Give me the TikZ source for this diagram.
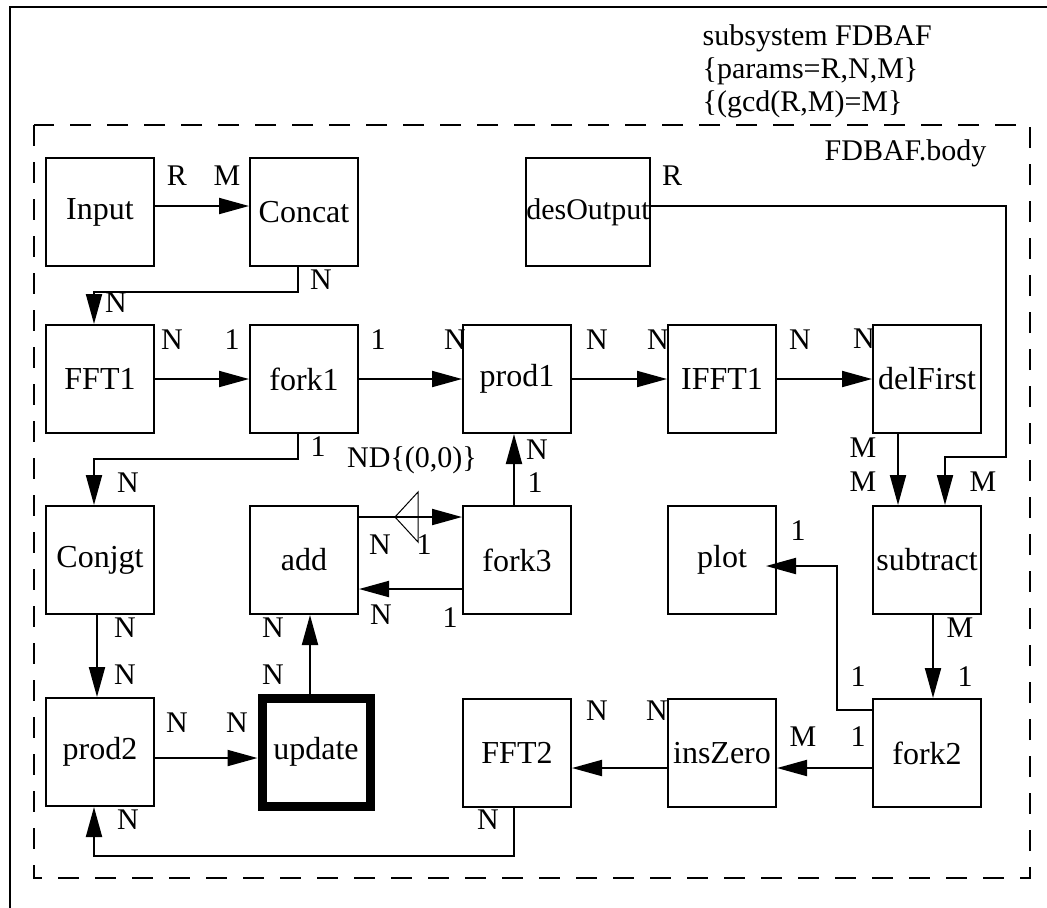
\documentclass[tikz,border=0pt]{standalone}
\usepackage{fontspec}
\setmainfont{Liberation Serif}
\usetikzlibrary{arrows.meta}

\begin{document}
\begin{tikzpicture}[x=0.5pt,y=-0.5pt,>={Triangle[length=15pt,width=8pt]},line width=1pt,
        font=\fontsize{15}{16.5}\selectfont,
        blk/.style={draw, rectangle, minimum size=54pt, inner sep=0pt, font=\fontsize{16}{18}\selectfont},
        lbl/.style={inner sep=0pt}]
        \useasboundingbox (0,0) rectangle (1047,907);
        \draw (1060,7) -- (10,7) -- (10,920);
        \draw[dash pattern=on 10.5pt off 8pt] (34,125) rectangle (1030,878);

        \node (hdr1) [anchor=base west] at (695,45) {subsystem FDBAF};
        \node (hdr2) [anchor=base west] at (695,78) {\{params=R,N,M\}};
        \node (hdr3) [anchor=base west] at (695,111) {\{(gcd(R,M)=M\}};
        \node (body) [anchor=base west] at (817,160) {FDBAF.body};

        \node (input) [blk] at (100,212) {Input};
        \node (concat) [blk] at (304,212) {Concat};
        \node (desoutput) [blk, minimum width=61.5pt, font=\fontsize{15}{18}\selectfont] at (588,212) {desOutput};

        \node (fft1) [blk] at (100,379) {FFT1};
        \node (fork1) [blk] at (304,379) {fork1};
        \node (prod1) [blk] at (517,379) {prod1};
        \node (ifft1) [blk] at (722,379) {IFFT1};
        \node (delfirst) [blk] at (927,379) {delFirst};

        \node (conjgt) [blk] at (100,560) {Conjgt};
        \node (add) [blk] at (304,560) {add};
        \node (fork3) [blk] at (517,560) {fork3};
        \node (plot) [blk] at (722,560) {plot};
        \node (subtract) [blk] at (927,560) {subtract};

        \node (prod2) [blk] at (100,752) {prod2};
        \node (update) [blk, line width=4.5pt] at (316,752) {update};
        \node (fft2) [blk] at (517,753) {FFT2};
        \node (inszero) [blk] at (722,753) {insZero};
        \node (fork2) [blk] at (927,753) {fork2};

        \draw[->] ([yshift=3pt]input.east) -- ([yshift=3pt]concat.west);
        \draw[->] ([xshift=-3pt]concat.south) -- ++(0,25) -| ([xshift=-3pt]fft1.north);
        \draw[->] ([yshift=3pt]desoutput.east) -| (1006,457) -| ([xshift=9pt]subtract.north);
        \draw[->] (fft1) -- (fork1);
        \draw[->] (fork1) -- (prod1);
        \draw[->] (prod1) -- (ifft1);
        \draw[->] (ifft1) -- (delfirst);
        \draw[->] ([xshift=-3pt]fork1.south) -- ++(0,25) -| ([xshift=-3pt]conjgt.north);
        \draw[->] ([xshift=-14.5pt]delfirst.south) -- ([xshift=-14.5pt]subtract.north);
        \draw[->] ([xshift=-1.5pt]fork3.north) -- ([xshift=-1.5pt]prod1.south);
        \draw[->] ([yshift=21.5pt]add.east) -- ([yshift=21.5pt]fork3.west);
        \draw[->] ([yshift=-14.5pt]fork3.west) -- ([yshift=-14.5pt]add.east);
        \draw[->] ([xshift=-3pt]update.north) -- ([xshift=3pt]add.south);
        \draw[->] ([xshift=-1.5pt]conjgt.south) -- ([xshift=-1.5pt]prod2.north);
        \draw[->] ([yshift=-3pt]prod2.east) -- ([yshift=-3pt]update.west);
        \draw[->] ([yshift=-7.5pt]inszero.west) -- ([yshift=-7.5pt]fft2.east);
        \draw[->] ([yshift=-7.5pt]fork2.west) -- ([yshift=-7.5pt]inszero.east);
        \draw[->] ([xshift=-1.5pt]fft2.south) -- ++(0,48) -| ([xshift=-3pt]prod2.south);
        \draw[->, shorten >=-5.5pt] ([yshift=21.5pt]fork2.west) -- ++(-35,0) |- ([yshift=-3pt]plot.east);
        \draw[->] ([xshift=3pt]subtract.south) -- ([xshift=3pt]fork2.north);

        \coordinate (delay) at (395,517);
        \draw[line width=0.5pt] (delay) -- ++(23,-25) -- ++(0,50) -- cycle;

        \node (inR) [lbl] at (177,176) {R};
        \node (concatM) [lbl] at (227,176) {M};
        \node (concatN) [lbl] at (321,280) {N};
        \node (fft1N) [lbl] at (116,303) {N};
        \node (desR) [lbl] at (672,176) {R};
        \node (fft1out) [lbl] at (172,340) {N};
        \node (fork1in) [lbl] at (232,340) {1};
        \node (fork1out) [lbl] at (378,340) {1};
        \node (prod1in) [lbl] at (455,340) {N};
        \node (prod1out) [lbl] at (597,340) {N};
        \node (ifft1in) [lbl] at (658,340) {N};
        \node (ifft1out) [lbl] at (800,340) {N};
        \node (delin) [lbl] at (864,339) {N};
        \node (fork1dn) [lbl] at (318,447) {1};
        \node (conjin) [lbl] at (128,483) {N};
        \node (delaylbl) [lbl] at (412,460) {ND\{(0,0)\}};
        \node (prod1in2) [lbl] at (537,450) {N};
        \node (fork3up) [lbl] at (535,483) {1};
        \node (delout) [lbl] at (863,448) {M};
        \node (subin) [lbl] at (863,482) {M};
        \node (subin2) [lbl] at (983,482) {M};
        \node (addout) [lbl] at (380,545) {N};
        \node (fork3in) [lbl] at (424,545) {1};
        \node (addin) [lbl] at (381,615) {N};
        \node (fork3out) [lbl] at (450,618) {1};
        \node (plotin) [lbl] at (798,531) {1};
        \node (conjout) [lbl] at (125,628) {N};
        \node (prod2in) [lbl] at (125,675) {N};
        \node (addin2) [lbl] at (273,628) {N};
        \node (updout) [lbl] at (273,675) {N};
        \node (subout) [lbl] at (960,628) {M};
        \node (fork2in) [lbl] at (965,677) {1};
        \node (fork2up) [lbl] at (858,677) {1};
        \node (prod2out) [lbl] at (177,723) {N};
        \node (updin) [lbl] at (237,723) {N};
        \node (fft2in) [lbl] at (597,711) {N};
        \node (insout) [lbl] at (657,711) {N};
        \node (insin) [lbl] at (803,737) {M};
        \node (fork2out) [lbl] at (858,737) {1};
        \node (fft2out) [lbl] at (488,820) {N};
        \node (prod2in2) [lbl] at (128,820) {N};
    \end{tikzpicture}
\end{document}
